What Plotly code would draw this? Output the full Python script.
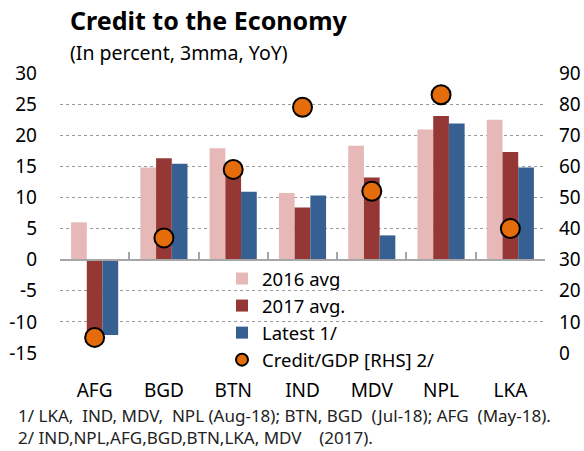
import plotly.graph_objects as go

categories = ["AFG", "BGD", "BTN", "IND", "MDV", "NPL", "LKA"]
avg_2016 = [6.0, 14.8, 17.9, 10.7, 18.3, 20.9, 22.5]
avg_2017 = [-12.3, 16.3, 14.5, 8.4, 13.2, 23.1, 17.3]
latest = [-12.1, 15.4, 10.9, 10.3, 3.9, 21.9, 14.8]
credit_gdp = [5, 37, 59, 79, 52, 83, 40]

left_ticks = [30, 25, 20, 15, 10, 5, 0, -5, -10, -15]
right_ticks = [90, 80, 70, 60, 50, 40, 30, 20, 10, 0]

FONT = "Noto Sans"
W, H = 584, 451
L, R, T, B = 60, 39, 73, 98
PW, PH = W - L - R, H - T - B


def px(x):  # pixel x -> paper
    return (x - L) / PW


def py(y):  # pixel y -> paper
    return (H - B - y) / PH


fig = go.Figure()
fig.add_trace(go.Bar(x=categories, y=avg_2016, name="2016 avg",
                     marker=dict(color="#E6B9B8", line=dict(width=0))))
fig.add_trace(go.Bar(x=categories, y=avg_2017, name="2017 avg.",
                     marker=dict(color="#953735", line=dict(width=0))))
fig.add_trace(go.Bar(x=categories, y=latest, name="Latest 1/",
                     marker=dict(color="#376092", line=dict(width=0))))
fig.add_trace(go.Scatter(x=categories, y=credit_gdp, name="Credit/GDP [RHS] 2/",
                         mode="markers", yaxis="y2",
                         marker=dict(color="#E46C0A", size=19,
                                     line=dict(color="black", width=2))))
# helper trace for the category-boundary axis drawn at zero
fig.add_trace(go.Scatter(x=[], y=[], xaxis="x2", yaxis="y", showlegend=False,
                         hoverinfo="skip"))

fig.update_layout(
    width=W, height=H,
    margin=dict(l=L, r=R, t=T, b=B, autoexpand=False),
    paper_bgcolor="white", plot_bgcolor="white",
    font=dict(family=FONT, size=19, color="black"),
    barmode="group", bargap=0.32, bargroupgap=0,
    showlegend=True,
    legend=dict(x=px(222), y=py(260), xanchor="left", yanchor="top",
                bgcolor="rgba(0,0,0,0)", font=dict(size=18.5, family=FONT),
                itemsizing="constant", tracegroupgap=0, traceorder="normal",
                itemwidth=30),
    title=dict(text="<b>Credit to the Economy</b>", x=70 / W, xref="container",
               xanchor="left", y=1 - 21 / H, yref="container", yanchor="middle",
               font=dict(size=25, family=FONT, color="black")),
    xaxis=dict(type="category", range=[-0.5, 6.5], automargin=False,
               showline=False, ticks="",
               showgrid=False, tickfont=dict(size=19), ticklabelstandoff=24),
    xaxis2=dict(overlaying="x", anchor="free", position=15 / 45, range=[-0.5, 6.5],
                automargin=False,
                showline=True, linecolor="#A6A6A6", linewidth=2,
                ticks="inside", ticklen=7, tickwidth=1.5, tickcolor="#A6A6A6",
                tickvals=[-0.5, 0.5, 1.5, 2.5, 3.5, 4.5, 5.5, 6.5],
                showticklabels=False, showgrid=False, zeroline=False, side="bottom"),
    yaxis=dict(range=[-15, 30], tickvals=left_ticks, automargin=False,
               ticktext=[str(v) for v in left_ticks],
               showgrid=True, gridcolor="#9A9A9A", griddash="dot", gridwidth=1.1,
               zeroline=False, showline=False, ticks="",
               tickfont=dict(size=19), ticklabelstandoff=22),
    yaxis2=dict(range=[0, 90], tickvals=right_ticks, automargin=False,
                ticktext=[str(v) for v in right_ticks],
                overlaying="y", side="right",
                showgrid=False, zeroline=False,
                showline=False, ticks="", tickfont=dict(size=19),
                ticklabelstandoff=13),
)

NB = "\u00a0"
foot1 = f"1/ LKA,{NB}{NB}IND, MDV,{NB}{NB}NPL (Aug-18); BTN, BGD{NB}{NB}(Jul-18); AFG{NB}{NB}(May-18)."
foot2 = f"2/ IND,NPL,AFG,BGD,BTN,LKA, MDV{NB}{NB}{NB}{NB}(2017)."

fig.add_annotation(text="(In percent, 3mma, YoY)", xref="paper", yref="paper",
                   x=px(68), y=py(52), xanchor="left", yanchor="middle", align="left",
                   showarrow=False, font=dict(size=19.5, family=FONT, color="black"))
fig.add_annotation(text=foot1, xref="paper", yref="paper",
                   x=px(16), y=py(415), xanchor="left", yanchor="middle", align="left",
                   showarrow=False, font=dict(size=17, family=FONT, color="#222222"))
fig.add_annotation(text=foot2, xref="paper", yref="paper",
                   x=px(16), y=py(437), xanchor="left", yanchor="middle", align="left",
                   showarrow=False, font=dict(size=17, family=FONT, color="#222222"))

fig.write_html("out.html", config={"displayModeBar": False},
               post_script="document.body.style.margin='0';")
